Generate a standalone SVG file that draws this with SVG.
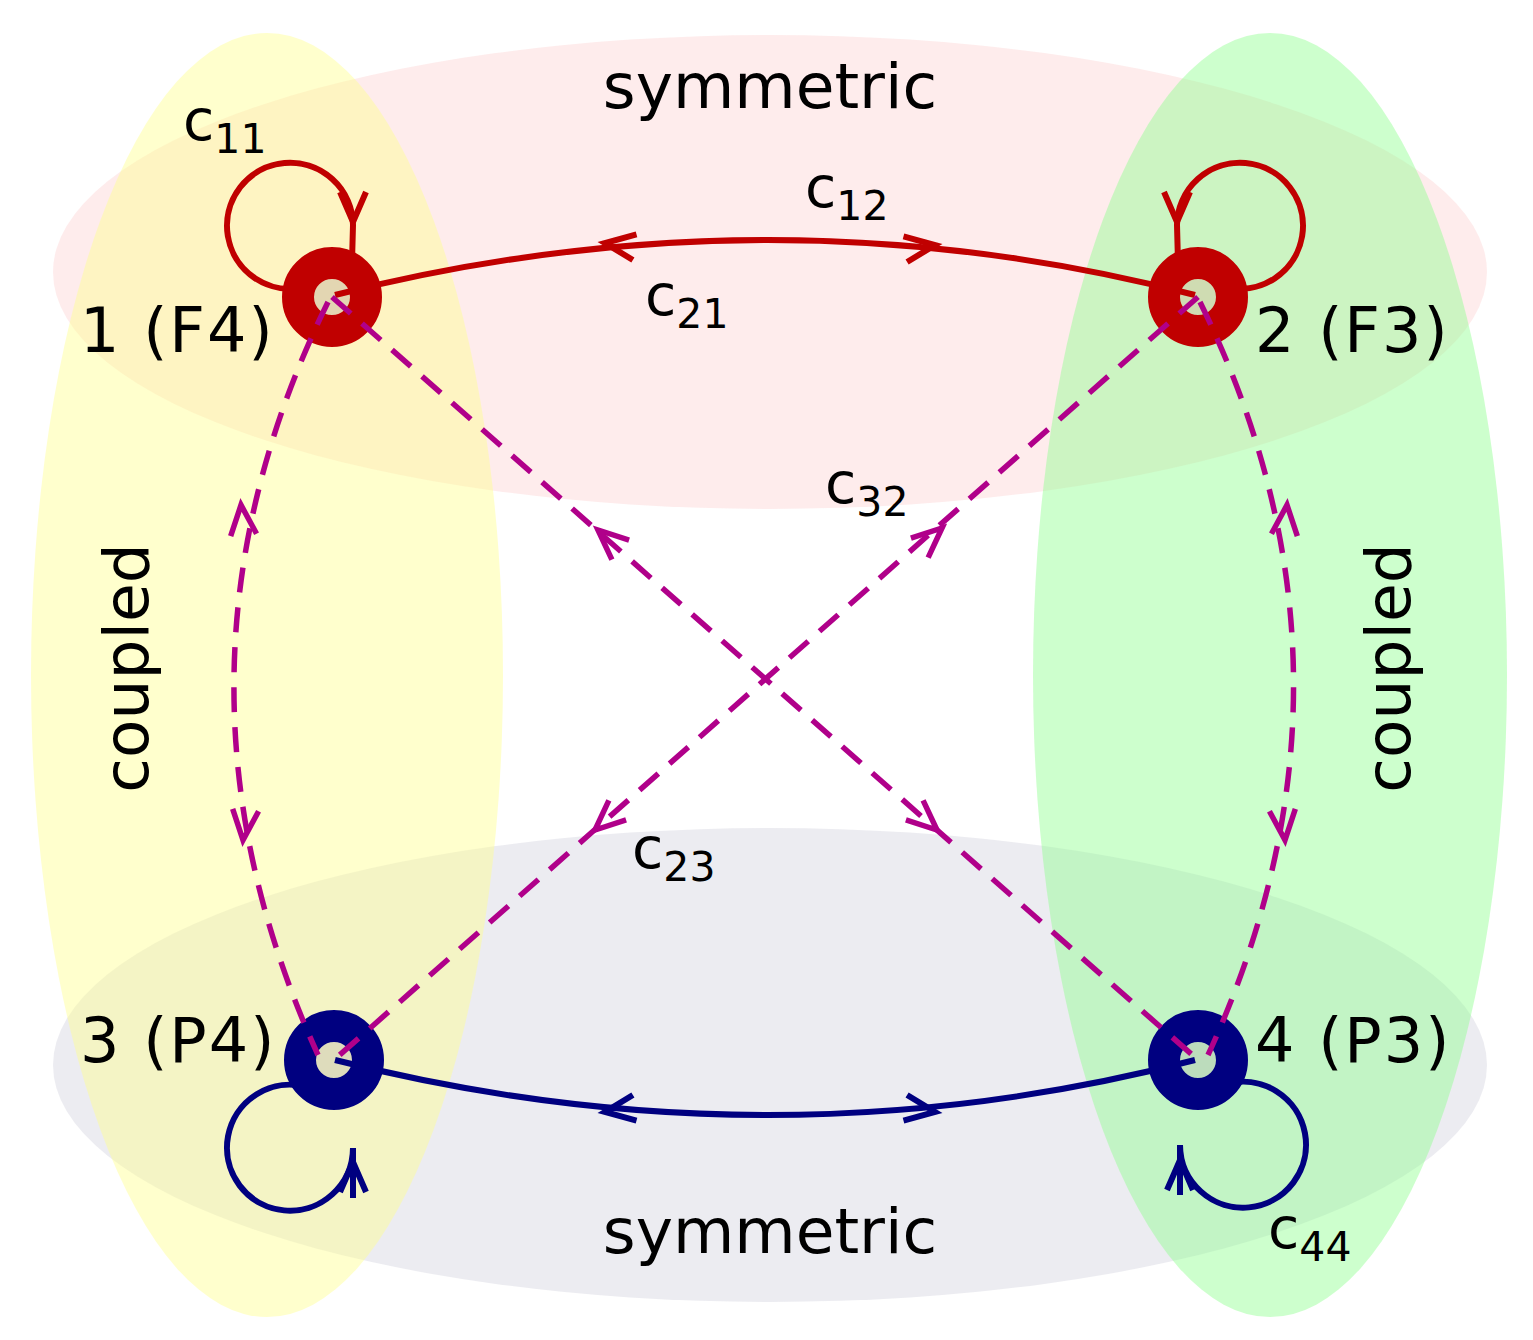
<svg xmlns="http://www.w3.org/2000/svg" xmlns:xlink="http://www.w3.org/1999/xlink" width="1533" height="1340" viewBox="0 0 1533 1340">
<style>
text{font-family:"DejaVu Sans",Verdana,sans-serif;fill:#000}
.big{font-size:63px}
.lab{font-size:62px;letter-spacing:2px}
.c{font-size:57px}
.sub{font-size:41px}
.red{fill:none;stroke:#c00000;stroke-width:6}
.blue{fill:none;stroke:#000080;stroke-width:6}
.pur{fill:none;stroke:#b0008a;stroke-width:5.5;stroke-dasharray:25 15}
.purs{fill:none;stroke:#b0008a;stroke-width:5.5}
</style>
<defs>
<path id="ch" d="M-30,-13 L0,0 L-30,13"/>
</defs>
<rect width="1533" height="1340" fill="#fff"/>
<g id="regions">
<ellipse cx="770" cy="272" rx="717" ry="237" fill="#fcd4d4" opacity="0.45"/>
<ellipse cx="770" cy="1065" rx="717" ry="237" fill="#d4d4e0" opacity="0.45"/>
<ellipse cx="267" cy="675" rx="236" ry="642" fill="#ffff90" opacity="0.45"/>
<ellipse cx="1270" cy="675" rx="237" ry="642" fill="#90ff90" opacity="0.45"/>
</g>
<g id="n1"><circle cx="332" cy="297" r="34" fill="#e3d6b2" stroke="#c00000" stroke-width="32"/></g>
<g id="n2"><circle cx="1198" cy="297" r="34" fill="#cfdcb2" stroke="#c00000" stroke-width="32"/></g>
<g id="n3"><circle cx="334" cy="1060" r="34" fill="#dedcbc" stroke="#000080" stroke-width="32"/></g>
<g id="n4"><circle cx="1198" cy="1060" r="34" fill="#bcdcbc" stroke="#000080" stroke-width="32"/></g>
<g id="connectors">
<path class="red" d="M335,295 Q770,185 1195,295"/>
<use href="#ch" class="red" transform="translate(605,243) rotate(188)"/>
<use href="#ch" class="red" transform="translate(935,245) rotate(-8)"/>
<path class="blue" d="M335,1060 Q770,1170 1195,1060"/>
<use href="#ch" class="blue" transform="translate(605,1112) rotate(172)"/>
<use href="#ch" class="blue" transform="translate(935,1112) rotate(8)"/>
<path class="red" d="M352,262 L353,225 A63 63 0 1 0 305,287"/>
<use href="#ch" class="red" transform="translate(353,222) rotate(90)"/>
<path class="red" d="M1178,262 L1177,225 A63 63 0 1 1 1225,287"/>
<use href="#ch" class="red" transform="translate(1177,222) rotate(90)"/>
<path class="blue" d="M353,1198 L353,1148 A63 63 0 1 1 307,1087"/>
<use href="#ch" class="blue" transform="translate(353,1162) rotate(-90)"/>
<path class="blue" d="M1180,1195 L1180,1145 A63 63 0 1 0 1226,1084"/>
<use href="#ch" class="blue" transform="translate(1180,1160) rotate(-90)"/>
<path class="pur" d="M328,302 Q145,675 318,1055"/>
<path class="pur" d="M1200,302 Q1383,675 1208,1055"/>
<path class="pur" d="M332,297 L1198,1060"/>
<path class="pur" d="M1198,297 L334,1060"/>
<use href="#ch" class="purs" transform="translate(241,505) rotate(-95)"/>
<use href="#ch" class="purs" transform="translate(243,840) rotate(95)"/>
<use href="#ch" class="purs" transform="translate(1287,505) rotate(-85)"/>
<use href="#ch" class="purs" transform="translate(1285,840) rotate(85)"/>
<use href="#ch" class="purs" transform="translate(598,530) rotate(221.4)"/>
<use href="#ch" class="purs" transform="translate(937,830) rotate(41.4)"/>
<use href="#ch" class="purs" transform="translate(942,528) rotate(-41.5)"/>
<use href="#ch" class="purs" transform="translate(595,830) rotate(138.5)"/>
</g>
<g id="labels">
<text class="big" x="770" y="108" text-anchor="middle">symmetric</text>
<text class="big" x="770" y="1253" text-anchor="middle">symmetric</text>
<text class="big" transform="translate(148,668) rotate(-90)" text-anchor="middle">coupled</text>
<text class="big" transform="translate(1410,668) rotate(-90)" text-anchor="middle">coupled</text>
<text class="lab" x="80" y="352">1 (F4)</text>
<text class="lab" x="1255" y="352">2 (F3)</text>
<text class="lab" x="80" y="1062">3 (P4)</text>
<text class="lab" x="1255" y="1062">4 (P3)</text>
<text class="c" x="183" y="140">c<tspan class="sub" dy="13">11</tspan></text>
<text class="c" x="805" y="207">c<tspan class="sub" dy="13">12</tspan></text>
<text class="c" x="645" y="315">c<tspan class="sub" dy="13">21</tspan></text>
<text class="c" x="825" y="503">c<tspan class="sub" dy="13">32</tspan></text>
<text class="c" x="632" y="868">c<tspan class="sub" dy="13">23</tspan></text>
<text class="c" x="1268" y="1248">c<tspan class="sub" dy="13">44</tspan></text>
</g>
</svg>
